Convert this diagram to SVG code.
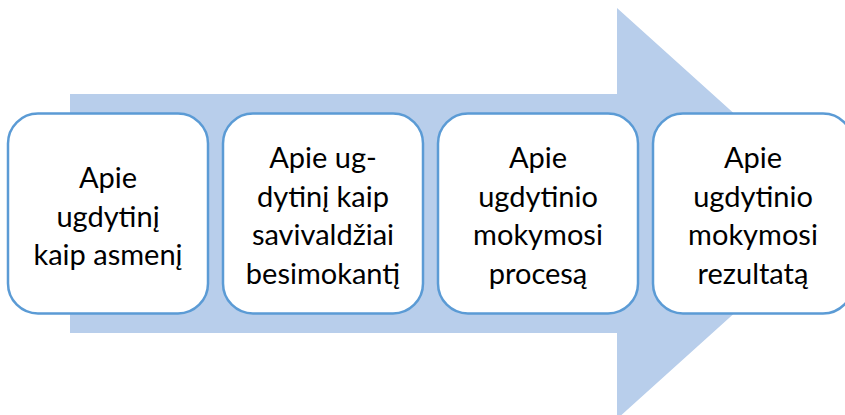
<svg xmlns="http://www.w3.org/2000/svg" width="845" height="415" viewBox="0 0 845 415">
<style>
.box{fill:#ffffff;stroke:#5B9BD5;stroke-width:2.5}
.t{font-family:Lato,"Noto Sans",sans-serif;font-size:29px;fill:#000000;text-anchor:middle}
</style>
<rect width="845" height="415" fill="#ffffff"/>
<g id="arrow">
<polygon points="70,94 617,94 617,8 845,213.5 617,419 617,333 70,333" fill="#B8CEEB"/>
</g>
<g id="node1">
<rect class="box" x="8" y="113.5" width="200" height="200" rx="30"/>
<text class="t" x="108" y="188">Apie</text>
<text class="t" x="108" y="226.5">ugdytinį</text>
<text class="t" x="108" y="265">kaip asmenį</text>
</g>
<g id="node2">
<rect class="box" x="223" y="113.5" width="200" height="200" rx="30"/>
<text class="t" x="323" y="168">Apie ug-</text>
<text class="t" x="323" y="206.5">dytinį kaip</text>
<text class="t" x="323" y="245">savivaldžiai</text>
<text class="t" x="323" y="283.5">besimokantį</text>
</g>
<g id="node3">
<rect class="box" x="438" y="113.5" width="200" height="200" rx="30"/>
<text class="t" x="538" y="168">Apie</text>
<text class="t" x="538" y="206.5">ugdytinio</text>
<text class="t" x="538" y="245">mokymosi</text>
<text class="t" x="538" y="283.5">procesą</text>
</g>
<g id="node4">
<rect class="box" x="653" y="113.5" width="200" height="200" rx="30"/>
<text class="t" x="753" y="168">Apie</text>
<text class="t" x="753" y="206.5">ugdytinio</text>
<text class="t" x="753" y="245">mokymosi</text>
<text class="t" x="753" y="283.5">rezultatą</text>
</g>
<g id="connectors"></g>
</svg>
